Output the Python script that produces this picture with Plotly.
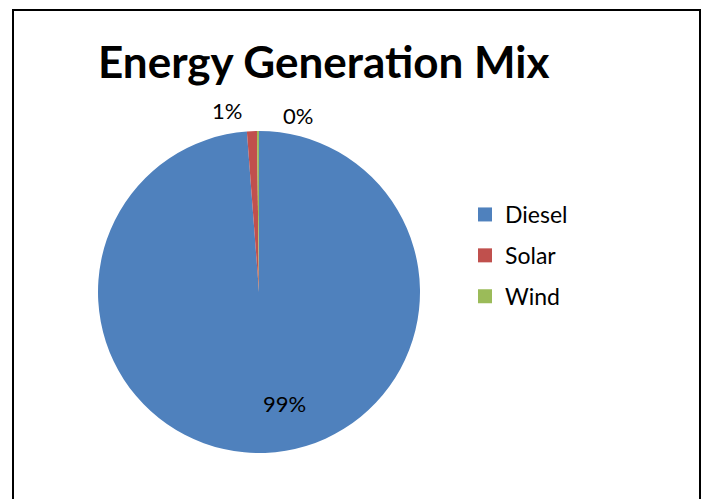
import plotly.graph_objects as go

categories = ["Diesel", "Solar", "Wind"]
values = [98.8, 1.0, 0.2]
colors = ["#4F81BD", "#C0504D", "#9BBB59"]
title_text = "Energy Generation Mix"

W, H = 707, 499
cx, cy, r = 259, 292, 161

fig = go.Figure()
fig.add_trace(go.Pie(
    labels=categories, values=values, sort=False, direction="clockwise", rotation=0,
    marker=dict(colors=colors, line=dict(width=0)),
    textinfo="none", hoverinfo="label+percent", showlegend=False,
    domain=dict(x=[(cx - r) / W, (cx + r) / W], y=[1 - (cy + r) / H, 1 - (cy - r) / H]),
))

for cat, col in zip(categories, colors):
    fig.add_trace(go.Scatter(x=[None], y=[None], mode="markers", name=cat,
                             marker=dict(symbol="square", size=14, color=col),
                             legendgroup=cat, showlegend=True))

total = sum(values)
pct = [f"{round(v / total * 100):.0f}%" for v in values]
label_pos = [(284, 403), (227, 110), (298, 115)]
for t, (lx, ly) in zip(pct, label_pos):
    fig.add_annotation(x=lx / W, y=1 - ly / H, xref="paper", yref="paper", text=t,
                       xanchor="center", yanchor="middle",
                       showarrow=False, font=dict(family="Lato", size=22, color="#000000"))

fig.add_annotation(x=96 / W, y=1 - 61 / H, xref="paper", yref="paper", xanchor="left",
                   yanchor="middle",
                   text=f"<b>{title_text}</b>", showarrow=False,
                   font=dict(family="Lato", size=44, color="#000000"))

# chart border
fig.add_shape(type="path", xref="paper", yref="paper",
              path=f"M {13/W} {0} L {13/W} {1-10/H} L {700/W} {1-10/H} L {700/W} 0",
              line=dict(color="#000000", width=2))

fig.update_layout(
    width=W, height=H, margin=dict(l=0, r=0, t=0, b=0),
    paper_bgcolor="#FFFFFF", plot_bgcolor="#FFFFFF",
    xaxis=dict(visible=False), yaxis=dict(visible=False),
    legend=dict(x=465 / W, y=1 - 193 / H, xanchor="left", yanchor="top",
                font=dict(family="Lato", size=23, color="#000000"),
                tracegroupgap=8, itemsizing="trace", bgcolor="rgba(0,0,0,0)"),
)

fig.write_html("out.html")
